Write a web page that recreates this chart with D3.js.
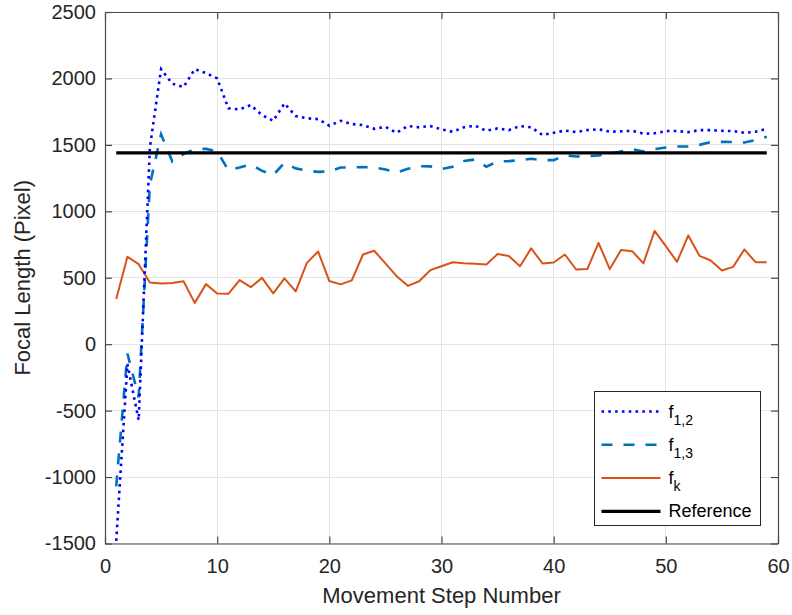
<!DOCTYPE html>
<html>
<head>
<meta charset="utf-8">
<title>Focal Length</title>
<script src="https://cdnjs.cloudflare.com/ajax/libs/d3/7.8.5/d3.min.js"></script>
<style>
  body {
    margin: 0;
    background: #fff;
    font-family: "Liberation Sans", Arial, Helvetica, sans-serif;
  }
  .grid line {
    stroke: #e3e3e3;
    stroke-width: 1;
    shape-rendering: crispEdges;
  }
  .tick text {
    font-size: 20px;
    fill: #262626;
  }
</style>
</head>
<body>
<div id="graph"></div>
<script>
  // step numbers on the x axis
  var steps = [1, 2, 3, 4, 5, 6, 7, 8, 9, 10, 11, 12, 13, 14, 15, 16, 17, 18, 19, 20,
    21, 22, 23, 24, 25, 26, 27, 28, 29, 30, 31, 32, 33, 34, 35, 36, 37, 38, 39, 40,
    41, 42, 43, 44, 45, 46, 47, 48, 49, 50, 51, 52, 53, 54, 55, 56, 57, 58, 59];

  var f12 = [-1480, -150, -572, 1480, 2070, 1960, 1935, 2070, 2040, 2000,
    1775, 1767, 1800, 1724, 1681, 1812, 1717, 1700, 1694, 1644,
    1681, 1657, 1649, 1621, 1636, 1591, 1642, 1632, 1642, 1617,
    1599, 1632, 1644, 1606, 1624, 1611, 1642, 1632, 1574, 1591,
    1608, 1596, 1611, 1617, 1599, 1602, 1606, 1584, 1587, 1604,
    1604, 1596, 1611, 1611, 1606, 1604, 1591, 1599, 1621];

  var f13 = [-1070, -70, -400, 1200, 1580, 1375, 1430, 1468, 1470, 1450,
    1310, 1330, 1353, 1305, 1273, 1365, 1323, 1305, 1297, 1300,
    1330, 1330, 1333, 1330, 1315, 1292, 1320, 1340, 1338, 1318,
    1335, 1378, 1390, 1335, 1375, 1378, 1385, 1395, 1385, 1385,
    1420, 1413, 1415, 1420, 1432, 1450, 1468, 1450, 1468, 1480,
    1488, 1488, 1500, 1521, 1523, 1521, 1518, 1536, 1561];

  var fk = [340, 658, 602, 465, 457, 460, 474, 311, 452, 382,
    379, 482, 429, 499, 382, 495, 397, 612, 698, 475,
    450, 480, 675, 703, 608, 512, 439, 474, 557, 587,
    617, 610, 605, 600, 678, 663, 587, 721, 608, 615,
    675, 562, 565, 763, 565, 708, 700, 608, 853, 738,
    620, 818, 665, 630, 555, 582, 713, 617, 617];

  var refValue = 1440;

  var xTicks = [0, 10, 20, 30, 40, 50, 60];
  var yTicks = [-1500, -1000, -500, 0, 500, 1000, 1500, 2000, 2500];

  var width = 792;
  var height = 615;
  var margin = {top: 12, right: 14, bottom: 71.5, left: 105};
  var w = width - margin.left - margin.right;
  var h = height - margin.top - margin.bottom;

  var svg = d3.select("#graph")
    .append("svg")
    .attr("width", width)
    .attr("height", height);

  var vis = svg.append("g")
    .attr("transform", "translate(" + margin.left + "," + margin.top + ")");

  var x = d3.scaleLinear().domain([0, 60]).range([0, w]);
  var y = d3.scaleLinear().domain([-1500, 2500]).range([h, 0]);

  // grid
  var grid = vis.append("g").attr("class", "grid");
  grid.selectAll("line.gx")
    .data(xTicks)
    .enter()
    .append("line")
    .attr("x1", function(d) { return x(d); })
    .attr("x2", function(d) { return x(d); })
    .attr("y1", 0)
    .attr("y2", h);
  grid.selectAll("line.gy")
    .data(yTicks)
    .enter()
    .append("line")
    .attr("x1", 0)
    .attr("x2", w)
    .attr("y1", function(d) { return y(d); })
    .attr("y2", function(d) { return y(d); });

  // series
  var line = function(vals) {
    return d3.line()
      .x(function(d, i) { return x(steps[i]); })
      .y(function(d) { return y(d); })(vals);
  };

  vis.append("path")
    .attr("d", line(fk))
    .attr("fill", "none")
    .attr("stroke", "#D95319")
    .attr("stroke-width", 2)
    .attr("stroke-linejoin", "round");

  vis.append("path")
    .attr("d", line(f13))
    .attr("fill", "none")
    .attr("stroke", "#0072BD")
    .attr("stroke-width", 2.6)
    .attr("stroke-dasharray", "11,11");

  vis.append("path")
    .attr("d", line(f12))
    .attr("fill", "none")
    .attr("stroke", "#0000FF")
    .attr("stroke-width", 2.6)
    .attr("stroke-dasharray", "2.6,4.2");

  vis.append("line")
    .attr("x1", x(steps[0]))
    .attr("x2", x(steps[steps.length - 1]))
    .attr("y1", y(refValue))
    .attr("y2", y(refValue))
    .attr("stroke", "black")
    .attr("stroke-width", 3.2);

  // axes (box with inward ticks)
  var plain = function(d) { return String(d); };
  vis.append("g")
    .attr("transform", "translate(0," + h + ")")
    .call(d3.axisBottom(x).tickValues(xTicks).tickFormat(plain).tickSizeInner(-7).tickSizeOuter(0).tickPadding(15));
  vis.append("g")
    .call(d3.axisLeft(y).tickValues(yTicks).tickFormat(plain).tickSizeInner(-7).tickSizeOuter(0).tickPadding(9));
  vis.append("g")
    .call(d3.axisTop(x).tickValues(xTicks).tickSizeInner(-7).tickSizeOuter(0).tickFormat(""));
  vis.append("g")
    .attr("transform", "translate(" + w + ",0)")
    .call(d3.axisRight(y).tickValues(yTicks).tickSizeInner(-7).tickSizeOuter(0).tickFormat(""));

  vis.selectAll(".domain, .tick line")
    .attr("stroke", "#4a4a4a")
    .attr("stroke-width", 1.2);
  vis.selectAll(".tick text")
    .attr("font-family", "'Liberation Sans', Arial, sans-serif");

  // axis labels
  svg.append("text")
    .attr("x", margin.left + w / 2)
    .attr("y", 603)
    .attr("text-anchor", "middle")
    .attr("font-size", "22px")
    .attr("fill", "#262626")
    .text("Movement Step Number");

  svg.append("text")
    .attr("transform", "translate(30," + (margin.top + h / 2) + ") rotate(-90)")
    .attr("text-anchor", "middle")
    .attr("font-size", "22px")
    .attr("fill", "#262626")
    .text("Focal Length (Pixel)");

  // legend
  var legendItems = [
    {name: "f", sub: "1,2", color: "#0000FF", width: 2.6, dash: "2.6,4.2"},
    {name: "f", sub: "1,3", color: "#0072BD", width: 2.6, dash: "11,11"},
    {name: "f", sub: "k", color: "#D95319", width: 2, dash: null},
    {name: "Reference", sub: "", color: "black", width: 3.2, dash: null}
  ];

  var legend = svg.append("g")
    .attr("transform", "translate(594.5,391.5)");

  legend.append("rect")
    .attr("width", 166)
    .attr("height", 134)
    .attr("fill", "white")
    .attr("stroke", "#262626")
    .attr("stroke-width", 1);

  var row = legend.selectAll("g.row")
    .data(legendItems)
    .enter()
    .append("g")
    .attr("transform", function(d, i) { return "translate(0," + (20 + i * 33.3) + ")"; });

  row.append("line")
    .attr("x1", 7)
    .attr("x2", 66)
    .attr("y1", 0)
    .attr("y2", 0)
    .attr("stroke", function(d) { return d.color; })
    .attr("stroke-width", function(d) { return d.width; })
    .attr("stroke-dasharray", function(d) { return d.dash; });

  var label = row.append("text")
    .attr("x", 74)
    .attr("y", 6)
    .attr("font-size", "18px")
    .attr("fill", "#000");
  label.append("tspan").text(function(d) { return d.name; });
  label.append("tspan")
    .attr("dy", 7)
    .attr("font-size", "14px")
    .text(function(d) { return d.sub; });
</script>
</body>
</html>
